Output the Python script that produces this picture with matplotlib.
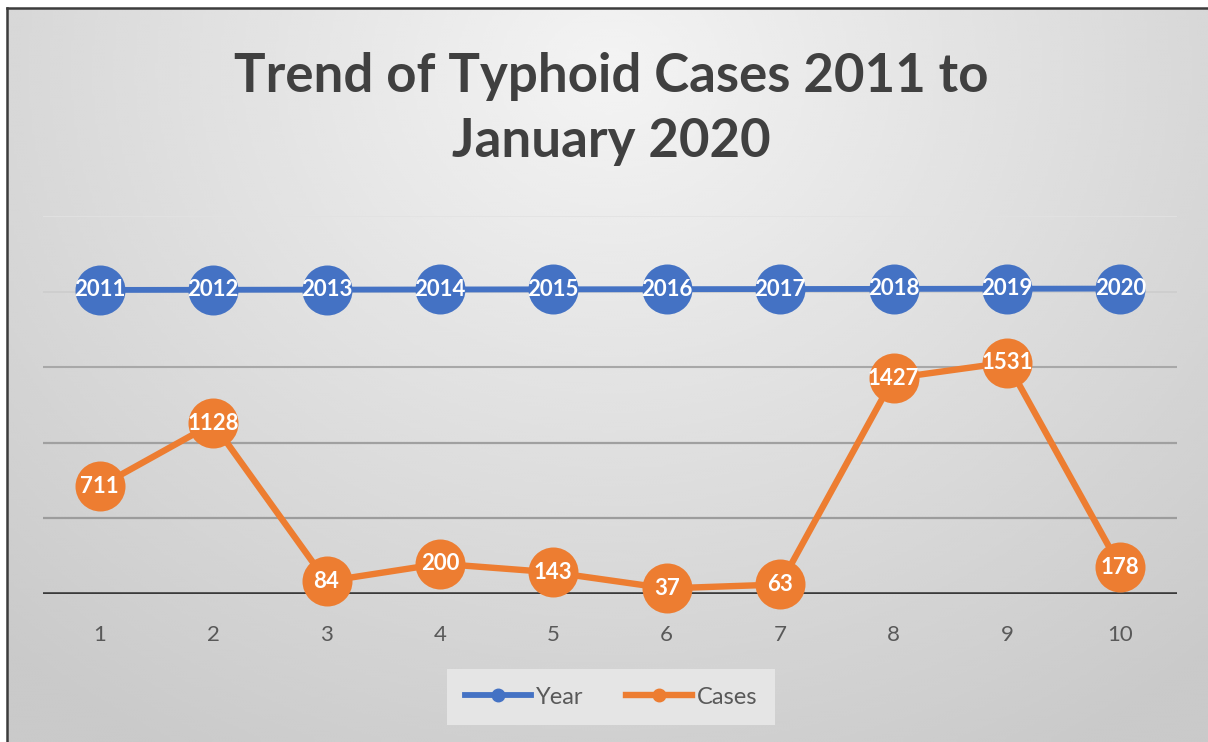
import numpy as np
import matplotlib
matplotlib.use("Agg")
import matplotlib.pyplot as plt
from matplotlib.lines import Line2D

# Data
positions = [1, 2, 3, 4, 5, 6, 7, 8, 9, 10]
tick_labels = ["1", "2", "3", "4", "5", "6", "7", "8", "9", "10"]
years = [2011, 2012, 2013, 2014, 2015, 2016, 2017, 2018, 2019, 2020]
cases = [711, 1128, 84, 200, 143, 37, 63, 1427, 1531, 178]
title = "Trend of Typhoid Cases 2011 to\nJanuary 2020"

BLUE = "#4472C4"
ORANGE = "#ED7D31"
TEXT_GREY = "#595959"
FONT = "Lato"

W, H = 1208, 742
fig = plt.figure(figsize=(W / 100, H / 100), dpi=100)
fig.patch.set_facecolor("white")

# Soft radial grey gradient behind the chart area
bg = fig.add_axes([7 / W, 0, 1 - 7 / W, 1 - 8 / H], zorder=-10)
gx, gy = np.meshgrid(np.linspace(7, W, 400), np.linspace(8, H, 300))
d = np.sqrt(((gx - 610) / 820) ** 2 + ((gy - 70) / 720) ** 2)
shade = np.clip(0.955 - 0.15 * d, 0.79, 1.0)
bg.imshow(shade, cmap="gray", vmin=0, vmax=1, aspect="auto",
          extent=[0, 1, 0, 1], origin="upper", interpolation="bicubic")
bg.set_axis_off()

# Dark frame on the left and top edges
fig.add_artist(Line2D([7 / W, 7 / W], [0, 1 - 8 / H], color="#3c3c3c",
                      lw=1.8, transform=fig.transFigure))
fig.add_artist(Line2D([7 / W, 1], [1 - 8 / H, 1 - 8 / H], color="#3c3c3c",
                      lw=1.8, transform=fig.transFigure))

# Plot area
ax = fig.add_axes([43 / W, (H - 594) / H, (1177 - 43) / W, (594 - 216) / H])
ax.set_facecolor("none")
ax.set_xlim(0.5, 10.5)
ax.set_ylim(0, 2500)
ax.set_yticks(range(0, 2501, 500))
ax.tick_params(axis="y", left=False, labelleft=False)
for s in ax.spines.values():
    s.set_visible(False)

ax.yaxis.grid(True)
grid_styles = [("#3a3a3a", 2.6), ("#9c9c9c", 1.6), ("#a0a0a0", 1.6),
               ("#a8a8a8", 1.5), ("#cdcdcd", 1.2), ("#e2e2e2", 1.2)]
for gl, (c, w) in zip(ax.get_ygridlines(), grid_styles):
    gl.set_color(c)
    gl.set_linewidth(w)
ax.set_axisbelow(True)

ax.set_xticks(positions)
ax.set_xticklabels(tick_labels, fontsize=16, color=TEXT_GREY,
                   family=FONT, fontweight="normal")
ax.tick_params(axis="x", length=0, pad=22)

ax.plot(positions, years, color=BLUE, lw=4.2, marker="o", ms=36,
        markeredgewidth=0, label="Year", zorder=3, clip_on=False)
ax.plot(positions, cases, color=ORANGE, lw=4.6, marker="o", ms=36,
        markeredgewidth=0, label="Cases", zorder=4, clip_on=False)

for xp, v in zip(positions, years):
    ax.text(xp, v, str(v), ha="center", va="center", color="white",
            fontsize=16, fontweight="bold", family=FONT, zorder=6)
for xp, v in zip(positions, cases):
    ax.text(xp, v, str(v), ha="center", va="center", color="white",
            fontsize=16, fontweight="bold", family=FONT, zorder=6)

fig.text(0.506, 1 - 109 / H, title, ha="center", va="center",
         fontsize=38, fontweight="bold", color="#404040", family=FONT,
         linespacing=1.42)

handles = [Line2D([0], [0], color=BLUE, lw=4.2, marker="o", ms=9),
           Line2D([0], [0], color=ORANGE, lw=4.6, marker="o", ms=9)]
leg = fig.legend(handles, ["Year", "Cases"], loc="center",
                 bbox_to_anchor=(611 / W, 1 - 697 / H), ncol=2,
                 frameon=True, facecolor="#e8e8e8", edgecolor="none",
                 framealpha=0.9, fancybox=False, handlelength=2.8,
                 handletextpad=0.2, columnspacing=1.8, borderpad=0.75,
                 prop={"family": FONT, "size": 17})
for t in leg.get_texts():
    t.set_color(TEXT_GREY)

fig.savefig("out.png", dpi=100)
